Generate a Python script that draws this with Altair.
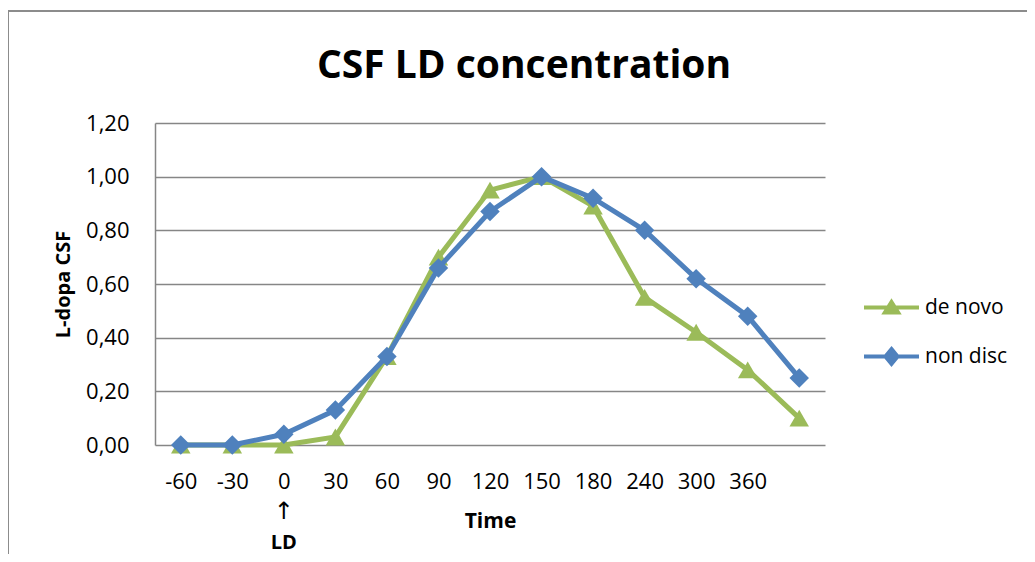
import altair as alt
import pandas as pd

# ---- data ----
times = ["-60", "-30", "0", "30", "60", "90", "120", "150", "180", "240", "300", "360", ""]
de_novo = [0.00, 0.00, 0.00, 0.03, 0.33, 0.70, 0.95, 1.00, 0.89, 0.55, 0.42, 0.28, 0.10]
non_disc = [0.00, 0.00, 0.04, 0.13, 0.33, 0.66, 0.87, 1.00, 0.92, 0.80, 0.62, 0.48, 0.25]
series_names = ["de novo", "non disc"]
series_colors = ["#9BBB59", "#4F81BD"]
series_shapes = ["triangle-up", "diamond"]
y_ticks = [0.0, 0.2, 0.4, 0.6, 0.8, 1.0, 1.2]

rows = []
for t, v in zip(times, de_novo):
    rows.append({"time": t, "value": v, "series": "de novo"})
for t, v in zip(times, non_disc):
    rows.append({"time": t, "value": v, "series": "non disc"})
df = pd.DataFrame(rows)

W, H = 670, 322
PAD_L, PAD_T, PAD_R, PAD_B = 147, 115, 202, 109
FONT = "Open Sans"
GRID = "#868686"

xenc = alt.X("time:O", sort=times,
             scale=alt.Scale(domain=times, padding=0.5),
             axis=alt.Axis(title="Time", labelAngle=0, domain=False, ticks=False,
                           labelPadding=26, labelFontSize=22, labelFont=FONT,
                           labelColor="black", titleFont=FONT, titleFontSize=21,
                           titleFontWeight="bold", titleColor="black", titlePadding=18,
                           grid=False))
yenc = alt.Y("value:Q", scale=alt.Scale(domain=[0, 1.2], nice=False),
             axis=alt.Axis(title="L-dopa CSF", values=y_ticks,
                           labelExpr="replace(format(datum.value, '.2f'), '.', ',')",
                           domain=True, domainColor=GRID, domainWidth=1.5,
                           ticks=False, grid=True, gridColor=GRID, gridWidth=1.5,
                           labelPadding=26, labelFontSize=22, labelFont=FONT,
                           labelColor="black", titleFont=FONT, titleFontSize=20,
                           titleFontWeight="bold", titleColor="black", titlePadding=12))

base = alt.Chart(df)
layers = []
for name, col, shp in zip(series_names, series_colors, series_shapes):
    sub = base.transform_filter(alt.datum.series == name)
    line = sub.mark_line(strokeWidth=5, color=col).encode(x=xenc, y=yenc)
    pts = sub.mark_point(filled=True, opacity=1, size=380, shape=shp, color=col).encode(
        x=xenc, y=yenc)
    layers += [line, pts]

# legend layer (draws no marks; carries a legend with line + marker symbols)
legend_paths = ["M-1,0H1M0,-0.2L0.24,0.18H-0.24Z",
                "M-1,0H1M0,-0.27L0.22,0L0,0.27L-0.22,0Z"]
leg = alt.Legend(title=None, orient="none", legendX=707, legendY=155,
                 labelFont=FONT, labelFontSize=21, labelColor="black",
                 labelOffset=4, rowPadding=6, symbolSize=3025, symbolStrokeWidth=4)
legend_layer = base.transform_filter("false").mark_point(
    filled=True, size=3025, strokeWidth=4, opacity=1).encode(
    x=xenc, y=yenc,
    fill=alt.Fill("series:N", scale=alt.Scale(domain=series_names, range=series_colors), legend=leg),
    stroke=alt.Stroke("series:N", scale=alt.Scale(domain=series_names, range=series_colors), legend=leg),
    shape=alt.Shape("series:N", scale=alt.Scale(domain=series_names, range=legend_paths), legend=leg),
)

# "LD" marker under time 0
ann = pd.DataFrame({"time": ["0"], "arrow": ["↑"], "label": ["LD"]})
arrow = alt.Chart(ann).mark_text(font="DejaVu Sans", fontSize=24,
                                 color="black").encode(
    x=xenc, y=alt.value(H + 67), text="arrow:N")
ld = alt.Chart(ann).mark_text(font=FONT, fontSize=20, fontWeight="bold",
                              color="black").encode(
    x=xenc, y=alt.value(H + 98), text="label:N")

# outer frame (top and left border lines)
frame_left = alt.Chart(ann).mark_rule(color="#8c8c8c", strokeWidth=2).encode(
    x=alt.value(-PAD_L), y=alt.value(-PAD_T + 3), y2=alt.value(H + PAD_B + 10))
frame_top = alt.Chart(ann).mark_rule(color="#8c8c8c", strokeWidth=2).encode(
    x=alt.value(-PAD_L), x2=alt.value(W + PAD_R + 10), y=alt.value(-PAD_T + 3))

chart = alt.layer(*layers, legend_layer, arrow, ld, frame_left, frame_top).properties(
    width=W, height=H,
    title=alt.TitleParams("CSF LD concentration", font=FONT, fontSize=39,
                          fontWeight="bold", color="black", anchor="middle",
                          dx=34, dy=98, offset=22),
    autosize=alt.AutoSizeParams(type="none"),
    padding={"left": PAD_L, "top": PAD_T, "right": PAD_R, "bottom": PAD_B},
    background="white",
).configure_view(stroke=None)

chart.save("out.html", embed_options={"renderer": "svg", "actions": False})
